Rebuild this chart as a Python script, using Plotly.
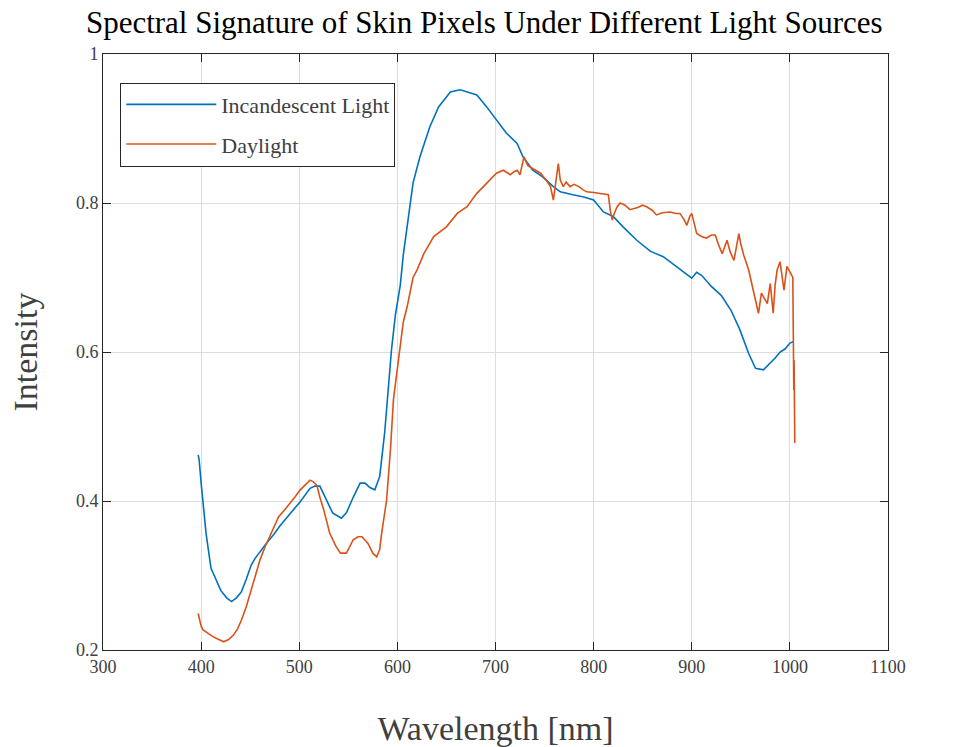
import plotly.graph_objects as go

# Incandescent light (blue)
inc_wl = [397, 398, 400, 403, 405, 410, 415, 420, 426, 431, 436, 441, 446, 451, 455, 460, 467, 474, 480, 490,
          501, 511, 516, 521, 527, 534, 543, 548, 555, 562, 567, 572, 577, 582, 587, 591, 594, 598, 603, 606,
          610, 616, 623, 633, 642, 654, 664, 672, 681, 691, 701, 711, 722, 728, 738, 748, 759, 766, 779, 790,
          800, 810, 820, 830, 844, 858, 871, 885, 895, 900, 905, 910, 920, 930, 940, 949, 958, 965, 973, 980,
          985, 990, 995, 1000, 1004]
inc_val = [0.462, 0.455, 0.424, 0.380, 0.357, 0.310, 0.295, 0.280, 0.270, 0.265, 0.270, 0.278, 0.295, 0.314, 0.323,
           0.332, 0.344, 0.355, 0.366, 0.382, 0.399, 0.417, 0.420, 0.420, 0.404, 0.384, 0.377, 0.384, 0.405, 0.424,
           0.424, 0.418, 0.415, 0.433, 0.491, 0.560, 0.603, 0.650, 0.690, 0.730, 0.768, 0.827, 0.862, 0.902, 0.929,
           0.949, 0.952, 0.949, 0.945, 0.929, 0.911, 0.894, 0.880, 0.862, 0.844, 0.835, 0.822, 0.815, 0.811, 0.808,
           0.804, 0.788, 0.782, 0.768, 0.750, 0.735, 0.728, 0.714, 0.703, 0.699, 0.707, 0.703, 0.688, 0.676, 0.656,
           0.630, 0.598, 0.578, 0.576, 0.585, 0.592, 0.600, 0.604, 0.612, 0.614]

# Daylight (orange)
day_wl = [397, 400, 402, 407, 412, 418, 423, 428, 433, 437, 441, 446, 450, 455, 460, 465, 470, 475, 479, 485,
          491, 496, 501, 506, 511, 514, 518, 521, 525, 531, 537, 542, 548, 555, 560, 564, 570, 575, 579, 582,
          584, 589, 593, 596, 600, 603, 606, 610, 616, 620, 627, 637, 650, 661, 671, 681, 691, 701, 708, 715,
          719, 722, 725, 729, 733, 740, 746, 752, 756, 759, 762, 764, 766, 769, 772, 776, 780, 785, 789, 793,
          800, 807, 815, 817, 819, 821, 824, 827, 832, 837, 845, 850, 854, 860, 864, 870, 878, 884, 888, 892,
          895, 898, 900, 903, 905, 910, 915, 920, 924, 927, 931, 936, 939, 943, 946, 948, 950, 953, 958, 963,
          968, 971, 974, 977, 980, 983, 985, 987, 990, 992, 994, 997, 999, 1002, 1003, 1004, 1004.3, 1005]
day_val = [0.249, 0.232, 0.227, 0.222, 0.218, 0.214, 0.211, 0.214, 0.220, 0.228, 0.240, 0.258, 0.276, 0.300, 0.321,
           0.338, 0.352, 0.368, 0.379, 0.388, 0.397, 0.406, 0.415, 0.422, 0.428, 0.426, 0.421, 0.405, 0.388, 0.357,
           0.340, 0.330, 0.330, 0.348, 0.352, 0.352, 0.343, 0.330, 0.325, 0.335, 0.357, 0.401, 0.470, 0.536, 0.580,
           0.607, 0.640, 0.661, 0.700, 0.710, 0.732, 0.755, 0.768, 0.786, 0.795, 0.813, 0.826, 0.840, 0.844, 0.838,
           0.842, 0.844, 0.838, 0.862, 0.850, 0.845, 0.840, 0.830, 0.822, 0.804, 0.830, 0.853, 0.831, 0.822, 0.828,
           0.822, 0.825, 0.822, 0.818, 0.815, 0.814, 0.813, 0.811, 0.790, 0.777, 0.786, 0.795, 0.800, 0.797, 0.791,
           0.794, 0.797, 0.795, 0.790, 0.784, 0.787, 0.788, 0.786, 0.786, 0.778, 0.770, 0.782, 0.786, 0.770, 0.759,
           0.755, 0.753, 0.757, 0.757, 0.745, 0.732, 0.750, 0.735, 0.723, 0.745, 0.759, 0.745, 0.730, 0.710, 0.679,
           0.652, 0.679, 0.672, 0.665, 0.692, 0.652, 0.690, 0.710, 0.721, 0.700, 0.683, 0.715, 0.710, 0.701, 0.700,
           0.549, 0.589, 0.478]

x_ticks = [300, 400, 500, 600, 700, 800, 900, 1000, 1100]
y_ticks = [0.2, 0.4, 0.6, 0.8, 1.0]
y_tick_labels = ["0.2", "0.4", "0.6", "0.8", "1"]

FONT = "Liberation Serif"
AX = "#262626"

fig = go.Figure()
fig.add_trace(go.Scatter(x=inc_wl, y=inc_val, mode="lines", name="Incandescent Light",
                         line=dict(color="#0072BD", width=1.6), legendgroup="a"))
fig.add_trace(go.Scatter(x=day_wl, y=day_val, mode="lines", name="Daylight",
                         line=dict(color="#D95319", width=1.6), legendgroup="b"))

axis_common = dict(showline=True, linecolor=AX, linewidth=1, mirror="ticks", ticks="inside",
                   ticklen=8, tickcolor=AX, showgrid=True, gridcolor="#dedede", gridwidth=1,
                   zeroline=False, automargin=False,
                   tickfont=dict(family=FONT, size=18, color="#404040"))

fig.update_layout(
    width=957, height=747,
    margin=dict(l=103, r=69, t=54, b=97),
    paper_bgcolor="white", plot_bgcolor="white",
    title=dict(text="Spectral Signature of Skin Pixels Under Different Light Sources",
               x=0.506, xanchor="center", y=0.97, yanchor="middle",
               font=dict(family=FONT, size=31, color="#000000")),
    xaxis=dict(range=[300, 1100], tickvals=x_ticks,
               title=dict(text="Wavelength [nm]", font=dict(family=FONT, size=34, color="#404040"), standoff=40),
               **axis_common),
    yaxis=dict(range=[0.2, 1.0], tickvals=y_ticks, ticktext=y_tick_labels,
               title=dict(text="Intensity", font=dict(family=FONT, size=34, color="#404040"), standoff=28),
               **axis_common),
    legend=dict(x=0.022, y=0.952, xanchor="left", yanchor="top",
                bgcolor="white", bordercolor=AX, borderwidth=1,
                font=dict(family=FONT, size=22, color="#404040"),
                traceorder="grouped", tracegroupgap=8, itemwidth=90),
    showlegend=True,
)

fig.write_html("out.html")
